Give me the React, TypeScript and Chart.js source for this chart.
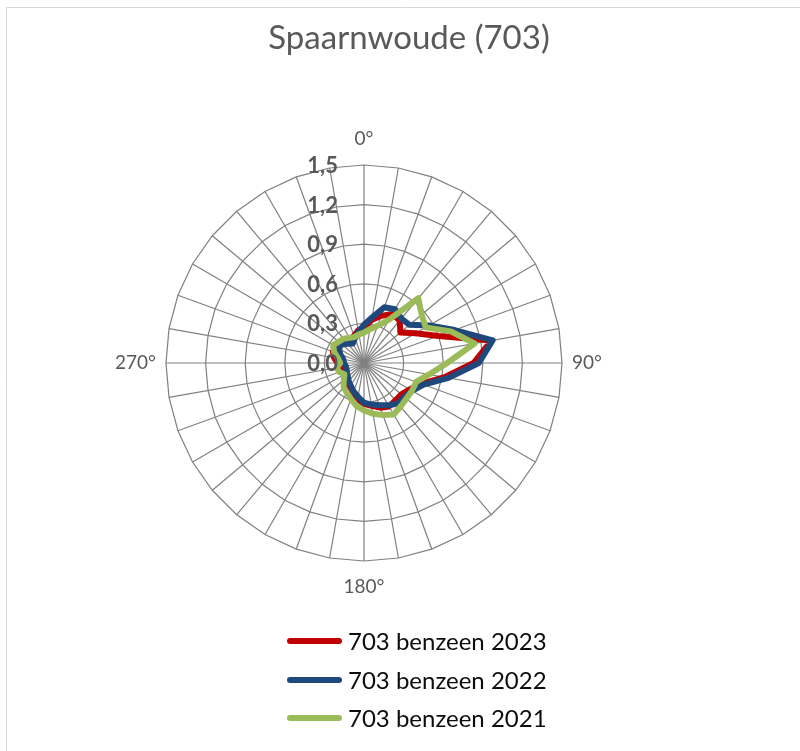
import React, { useEffect, useRef } from "react";
import { Chart, registerables } from "chart.js";

Chart.register(...registerables);

// Wind direction categories (degrees, clockwise from north)
const directions = [
  "0", "10", "20", "30", "40", "50", "60", "70", "80",
  "90", "100", "110", "120", "130", "140", "150", "160", "170",
  "180", "190", "200", "210", "220", "230", "240", "250", "260",
  "270", "280", "290", "300", "310", "320", "330", "340", "350",
];
const shownDirections = ["0", "90", "180", "270"];

const series2023 = [
  0.27, 0.33, 0.38, 0.43, 0.42, 0.36, 0.45, 0.60, 0.98,
  0.83, 0.62, 0.46, 0.40, 0.37, 0.37, 0.38, 0.36, 0.33,
  0.31, 0.28, 0.25, 0.22, 0.20, 0.17, 0.16, 0.16, 0.18,
  0.20, 0.23, 0.25, 0.25, 0.22, 0.21, 0.21, 0.22, 0.25,
];
const series2022 = [
  0.29, 0.35, 0.45, 0.47, 0.44, 0.45, 0.57, 0.73, 0.99,
  0.87, 0.65, 0.48, 0.42, 0.40, 0.40, 0.37, 0.34, 0.32,
  0.30, 0.26, 0.23, 0.20, 0.18, 0.16, 0.15, 0.14, 0.14,
  0.15, 0.16, 0.19, 0.22, 0.22, 0.19, 0.17, 0.20, 0.24,
];
const series2021 = [
  0.23, 0.26, 0.30, 0.38, 0.64, 0.57, 0.54, 0.70, 0.85,
  0.63, 0.50, 0.42, 0.42, 0.42, 0.43, 0.45, 0.42, 0.39,
  0.36, 0.33, 0.29, 0.26, 0.24, 0.20, 0.17, 0.20, 0.21,
  0.18, 0.20, 0.24, 0.27, 0.25, 0.24, 0.22, 0.21, 0.22,
];

const tickValues = [0, 0.3, 0.6, 0.9, 1.2, 1.5];
const tickLabels = ["0,0", "0,3", "0,6", "0,9", "1,2", "1,5"];

const seriesNames = ["703 benzeen 2023", "703 benzeen 2022", "703 benzeen 2021"];
const seriesColors = ["#C00000", "#1F497D", "#9BBB59"];
const titleText = "Spaarnwoude (703)";

const FONT = "Lato, 'Open Sans', sans-serif";
const GRID = "#808080";

const textPlugin = {
  id: "excelText",
  beforeDraw(chart: any) {
    const ctx = chart.ctx;
    ctx.save();
    ctx.fillStyle = "#ffffff";
    ctx.fillRect(0, 0, chart.width, chart.height);
    ctx.strokeStyle = "#d9d9d9";
    ctx.lineWidth = 1;
    ctx.beginPath();
    ctx.moveTo(6.5, chart.height);
    ctx.lineTo(6.5, 7.5);
    ctx.lineTo(chart.width, 7.5);
    ctx.stroke();
    ctx.restore();
  },
  afterDraw(chart: any) {
    const ctx = chart.ctx;
    const scale = chart.scales.r;
    const cx = scale.xCenter;
    const cy = scale.yCenter;
    ctx.save();

    // Title
    ctx.fillStyle = "#595959";
    ctx.font = `33px ${FONT}`;
    ctx.textAlign = "center";
    ctx.textBaseline = "middle";
    ctx.fillText(titleText, 409, 38);

    // Radial tick labels
    ctx.font = `bold 22px ${FONT}`;
    ctx.textAlign = "right";
    ctx.textBaseline = "middle";
    tickValues.forEach((v, i) => {
      const d = scale.getDistanceFromCenterForValue(v);
      ctx.fillText(tickLabels[i], cx - 26, cy - d + 1);
    });

    // Direction labels
    ctx.font = `19px ${FONT}`;
    directions.forEach((dir, i) => {
      if (!shownDirections.includes(dir)) return;
      const deg = Number(dir);
      const label = `${dir}°`;
      if (deg === 0 || deg === 180) {
        const p = scale.getPointPosition(i, scale.drawingArea + 26);
        ctx.textAlign = "center";
        ctx.textBaseline = "middle";
        ctx.fillText(label, p.x, p.y);
      } else {
        const p = scale.getPointPosition(i, scale.drawingArea + 10);
        ctx.textAlign = deg === 90 ? "left" : "right";
        ctx.textBaseline = "middle";
        ctx.fillText(label, p.x, p.y);
      }
    });

    // Legend
    const rows = [641, 680, 718];
    seriesNames.forEach((name, i) => {
      const y = rows[i];
      ctx.strokeStyle = seriesColors[i];
      ctx.lineWidth = 6;
      ctx.lineCap = "round";
      ctx.beginPath();
      ctx.moveTo(290, y);
      ctx.lineTo(339, y);
      ctx.stroke();
      ctx.fillStyle = "#0d0d0d";
      ctx.font = `24px ${FONT}`;
      ctx.textAlign = "left";
      ctx.textBaseline = "middle";
      ctx.fillText(name, 348, y + 1);
    });
    ctx.restore();
  },
};

export default function App() {
  const canvasRef = useRef<HTMLCanvasElement | null>(null);

  useEffect(() => {
    if (!canvasRef.current) return;
    const data = [series2023, series2022, series2021];
    const chart = new Chart(canvasRef.current, {
      type: "radar",
      data: {
        labels: directions,
        datasets: data.map((values, i) => ({
          label: seriesNames[i],
          data: values,
          borderColor: seriesColors[i],
          backgroundColor: seriesColors[i],
          borderWidth: 6,
          borderJoinStyle: "round" as const,
          borderCapStyle: "round" as const,
          pointRadius: 0,
          pointHoverRadius: 0,
          fill: false,
          tension: 0,
          order: 3 - i,
        })),
      },
      options: {
        animation: false,
        responsive: false,
        maintainAspectRatio: false,
        layout: { padding: { left: 166, top: 165, right: 238, bottom: 190 } },
        plugins: {
          legend: { display: false },
          title: { display: false },
          tooltip: { enabled: false },
        },
        scales: {
          r: {
            min: 0,
            max: 1.5,
            ticks: { stepSize: 0.3, display: false },
            grid: { circular: false, color: GRID, lineWidth: 1.2 },
            angleLines: { display: true, color: GRID, lineWidth: 1.2 },
            pointLabels: { display: false },
          },
        },
      },
      plugins: [textPlugin],
    });
    return () => chart.destroy();
  }, []);

  return (
    <div style={{ position: "absolute", left: 0, top: 0, width: 800, height: 751 }}>
      <canvas ref={canvasRef} width={800} height={751} style={{ display: "block", width: 800, height: 751 }} />
    </div>
  );
}
